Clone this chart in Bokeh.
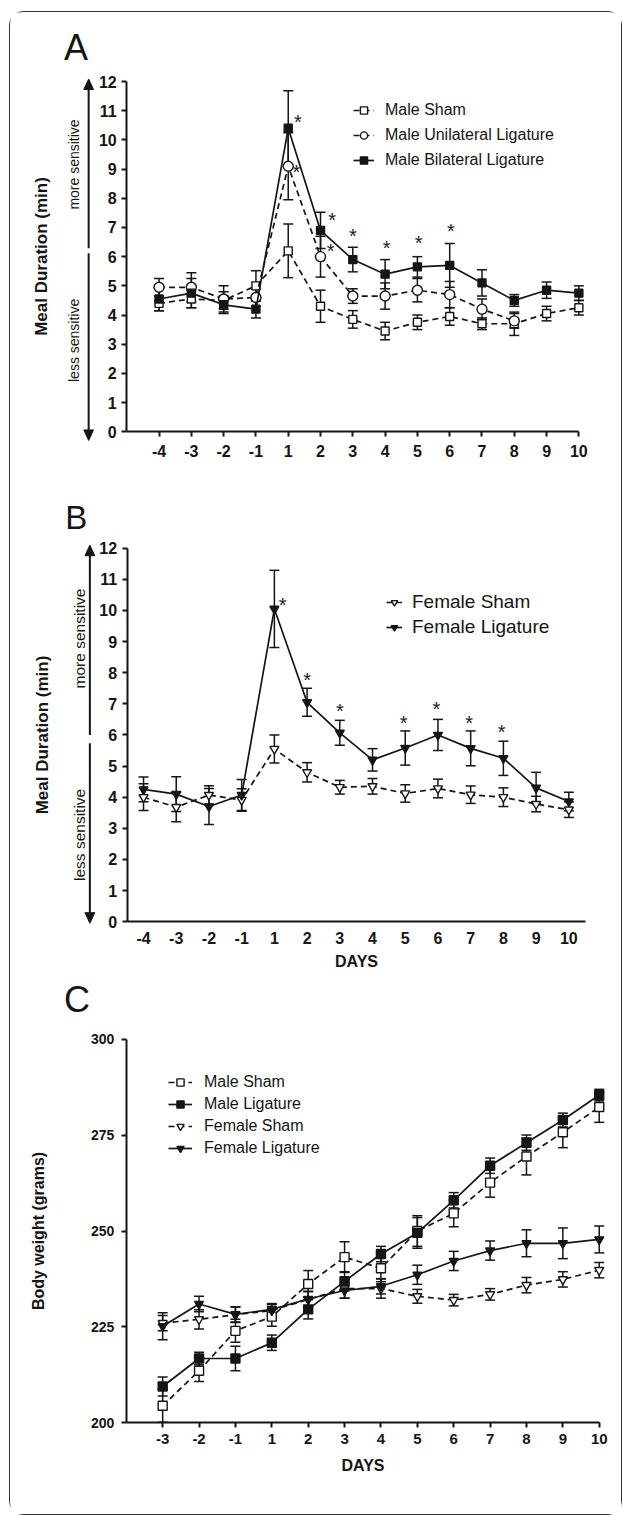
import math
from bokeh.plotting import figure
from bokeh.models import (Range1d, FixedTicker, Whisker, ColumnDataSource, Legend,
                          LegendItem, Label, TeeHead)
from bokeh.layouts import column
from bokeh.embed import file_html
from bokeh.resources import INLINE
from bokeh.core.properties import value

# ---------------- data ----------------
days_ab = [-4, -3, -2, -1, 1, 2, 3, 4, 5, 6, 7, 8, 9, 10]
days_c = [-3, -2, -1, 1, 2, 3, 4, 5, 6, 7, 8, 9, 10]

# Panel A: meal duration, males (min)
male_sham_a = [4.4, 4.55, 4.5, 5.0, 6.2, 4.3, 3.85, 3.45, 3.75, 3.95, 3.7, 3.7, 4.05, 4.25]
male_sham_a_err = [0.25, 0.3, 0.3, 0.52, 0.92, 0.55, 0.3, 0.3, 0.25, 0.3, 0.2, 0.4, 0.25, 0.25]
male_uni_a = [4.95, 4.95, 4.55, 4.6, 9.1, 6.0, 4.65, 4.65, 4.85, 4.7, 4.2, 3.8]
male_uni_a_err = [0.3, 0.5, 0.45, 0.3, 1.15, 0.7, 0.25, 0.45, 0.4, 0.45, 0.35, 0.25]
male_bi_a = [4.55, 4.75, 4.35, 4.2, 10.4, 6.9, 5.9, 5.4, 5.65, 5.7, 5.1, 4.5, 4.85, 4.75]
male_bi_a_err = [0.4, 0.5, 0.3, 0.3, 1.29, 0.62, 0.42, 0.5, 0.35, 0.75, 0.45, 0.2, 0.28, 0.25]
star_a_day = [1, 1, 2, 2, 3, 4, 5, 6]
star_a_val = [10.63, 8.91, 7.26, 6.19, 6.72, 6.29, 6.46, 6.88]
star_a_dx = [0.30, 0.25, 0.36, 0.31, 0.0, 0.05, 0.04, 0.04]

# Panel B: meal duration, females (min)
female_sham_b = [4.0, 3.68, 4.07, 3.91, 5.55, 4.8, 4.32, 4.35, 4.12, 4.28, 4.08, 4.0, 3.78, 3.6]
female_sham_b_err = [0.43, 0.47, 0.3, 0.36, 0.45, 0.31, 0.22, 0.25, 0.28, 0.3, 0.28, 0.3, 0.25, 0.25]
female_lig_b = [4.25, 4.1, 3.7, 4.07, 10.05, 7.05, 6.07, 5.2, 5.58, 6.0, 5.57, 5.25, 4.3, 3.86]
female_lig_b_err = [0.4, 0.56, 0.58, 0.5, 1.24, 0.45, 0.4, 0.36, 0.55, 0.5, 0.56, 0.55, 0.5, 0.3]
star_b_day = [1, 2, 3, 5, 6, 7, 8]
star_b_val = [10.16, 7.77, 6.78, 6.4, 6.83, 6.38, 6.1]
star_b_dx = [0.25, 0.0, 0.0, -0.05, -0.05, -0.05, -0.05]

# Panel C: body weight (grams)
male_sham_c = [204.5, 213.6, 224.0, 227.7, 236.2, 243.2, 240.3, 250.0, 254.6, 262.6, 269.4, 275.7, 282.3]
male_sham_c_err = [4.3, 2.8, 3.0, 2.5, 3.5, 4.0, 3.5, 4.0, 3.5, 3.8, 4.8, 4.0, 4.0]
male_lig_c = [209.5, 216.8, 216.8, 220.9, 229.6, 236.9, 244.0, 249.5, 258.0, 267.0, 273.0, 278.9, 285.4]
male_lig_c_err = [2.5, 1.6, 3.2, 2.0, 2.5, 2.5, 2.0, 4.0, 2.0, 2.0, 2.0, 1.8, 1.5]
female_sham_c = [226.0, 227.0, 228.2, 229.3, 232.2, 235.0, 235.0, 233.0, 232.0, 233.5, 235.9, 237.4, 239.8]
female_sham_c_err = [2.0, 2.5, 2.0, 1.5, 2.0, 2.5, 2.5, 1.8, 1.5, 1.5, 2.0, 2.0, 2.0]
female_lig_c = [225.2, 231.0, 228.3, 229.6, 232.3, 234.5, 235.6, 238.6, 242.2, 244.9, 246.8, 246.8, 247.8]
female_lig_c_err = [3.5, 2.0, 2.0, 1.5, 2.0, 2.0, 2.0, 2.5, 2.5, 2.5, 3.5, 4.0, 3.5]

meal_ticks = list(range(0, 13))
weight_ticks = [200, 225, 250, 275, 300]

# ---------------- style ----------------
FONT = "Liberation Sans"
INK = "#151515"
DASH = "6 4"
W = 611


def make_fig(height, xr, yr):
    p = figure(width=W, height=height, x_range=Range1d(*xr), y_range=Range1d(*yr),
               output_backend="svg", toolbar_location=None,
               min_border_left=0, min_border_right=0,
               min_border_top=0, min_border_bottom=0)
    p.outline_line_color = None
    p.grid.visible = False
    p.background_fill_color = "white"
    p.border_fill_color = "white"
    return p


def style_axis(ax, size, tick_out=5, standoff=5, label_size="17px", label_standoff=5):
    ax.axis_line_width = 2
    ax.axis_line_color = INK
    ax.major_tick_line_width = 2
    ax.major_tick_line_color = INK
    ax.major_tick_out = tick_out
    ax.major_tick_in = 0
    ax.minor_tick_out = 0
    ax.minor_tick_in = 0
    ax.major_label_text_font = FONT
    ax.major_label_text_font_style = "bold"
    ax.major_label_text_font_size = size
    ax.major_label_text_color = INK
    ax.major_label_standoff = standoff
    ax.axis_label_text_font = FONT
    ax.axis_label_text_font_style = "bold"
    ax.axis_label_text_font_size = label_size
    ax.axis_label_text_color = INK
    ax.axis_label_standoff = label_standoff


def series(p, ys, errs, marker, filled, dashed, size):
    xs = list(range(len(ys)))
    src = ColumnDataSource(dict(x=xs, y=ys,
                                lo=[y - e for y, e in zip(ys, errs)],
                                hi=[y + e for y, e in zip(ys, errs)]))
    w = Whisker(base="x", upper="hi", lower="lo", source=src,
                line_width=1.5, line_color=INK,
                upper_head=TeeHead(size=10, line_width=1.5, line_color=INK),
                lower_head=TeeHead(size=10, line_width=1.5, line_color=INK))
    p.add_layout(w)
    ln = p.line("x", "y", source=src, line_width=1.7, line_color=INK,
                line_dash=DASH if dashed else "solid")
    sc = p.scatter("x", "y", source=src, marker=marker, size=size,
                   fill_color=INK if filled else "white",
                   line_color=INK, line_width=1.4)
    return [ln, sc]


def stars(p, days, days_list, vals, dxs, size="20px"):
    xs = [days_list.index(d) + dx for d, dx in zip(days, dxs)]
    p.text(x=xs, y=vals, text=["*"] * len(xs), text_font=value(FONT),
           text_font_size=size, text_align="center", text_baseline="middle",
           text_color="#222")


def side_text(p, text, x_data, y_data, size):
    p.add_layout(Label(x=x_data, y=y_data, x_units="data", y_units="data",
                       text=text, angle=math.pi / 2, text_font=FONT,
                       text_font_size=size, text_align="center",
                       text_baseline="middle", text_color=INK))


def side_arrow(p, x, y_from, y_tip, head_len, half_w):
    direction = 1 if y_tip > y_from else -1
    base = y_tip - direction * head_len
    p.segment(x0=[x], y0=[y_from], x1=[x], y1=[base + direction * head_len * 0.3],
              line_width=2, line_color=INK)
    p.patch(x=[x - half_w, x + half_w, x], y=[base, base, y_tip],
            fill_color=INK, line_color=INK, line_width=1)


def letter(p, text, x_data, y_data, size="36px"):
    p.add_layout(Label(x=x_data, y=y_data, x_units="data", y_units="data",
                       text=text, text_font=FONT, text_font_size=size,
                       text_align="left", text_baseline="alphabetic",
                       text_color=INK))


def legend(p, items, loc, font, gw, gh, spacing, standoff):
    lg = Legend(items=[LegendItem(label=l, renderers=r) for l, r in items],
                location=loc, padding=0, margin=0, spacing=spacing,
                glyph_width=gw, glyph_height=gh, label_height=gh,
                label_standoff=standoff, label_text_font=FONT,
                label_text_font_size=font, label_text_color=INK,
                border_line_color=None, background_fill_alpha=0)
    p.add_layout(lg)


overrides_ab = {i: str(d) for i, d in enumerate(days_ab)}
overrides_c = {i: str(d) for i, d in enumerate(days_c)}

# ---------------- Panel A ----------------
pA = make_fig(457, (-4.60, 14.32), (-1.296, 14.37))
ya, xa = pA.yaxis[0], pA.xaxis[0]
style_axis(ya, "16px", 5, 5, "17px", 45)
style_axis(xa, "16px", 5, 8)
ya.fixed_location, ya.bounds = -1, (0, 12)
xa.fixed_location, xa.bounds = 0, (-1, 13)
ya.ticker = FixedTicker(ticks=meal_ticks)
ya.axis_label = "Meal Duration (min)"
xa.ticker = FixedTicker(ticks=list(range(len(days_ab))))
xa.major_label_overrides = overrides_ab

rA1 = series(pA, male_sham_a, male_sham_a_err, "square", False, True, 8)
rA2 = series(pA, male_uni_a, male_uni_a_err, "circle", False, True, 10)
rA3 = series(pA, male_bi_a, male_bi_a_err, "square", True, False, 8)
stars(pA, star_a_day, days_ab, star_a_val, star_a_dx)
legend(pA, [("Male Sham", rA1), ("Male Unilateral Ligature", rA2),
            ("Male Bilateral Ligature", rA3)], (343, 300), "16px", 21, 18, 7, 11)
side_text(pA, "more sensitive", -2.63, 9.16, "14px")
side_text(pA, "less sensitive", -2.63, 3.13, "14px")
side_arrow(pA, -2.18, 6.29, 12.09, 0.36, 0.15)
side_arrow(pA, -2.18, 6.12, -0.3, 0.36, 0.15)
letter(pA, "A", -2.94, 13.17)

# ---------------- Panel B ----------------
pB = make_fig(505, (-4.066, 14.61), (-1.697, 14.53))
yb, xb = pB.yaxis[0], pB.xaxis[0]
style_axis(yb, "16px", 5, 5, "17px", 45)
style_axis(xb, "16px", 0, 10, "16px", 6)
yb.fixed_location, yb.bounds = -0.5, (0, 12)
xb.fixed_location, xb.bounds = 0, (-0.5, 13.5)
yb.ticker = FixedTicker(ticks=meal_ticks)
yb.axis_label = "Meal Duration (min)"
xb.ticker = FixedTicker(ticks=list(range(len(days_ab))))
xb.major_label_overrides = overrides_ab
xb.axis_label = "DAYS"

rB1 = series(pB, female_sham_b, female_sham_b_err, "inverted_triangle", False, True, 9)
rB2 = series(pB, female_lig_b, female_lig_b_err, "inverted_triangle", True, False, 9)
stars(pB, star_b_day, days_ab, star_b_val, star_b_dx)
legend(pB, [("Female Sham", rB1), ("Female Ligature", rB2)], (376, 336), "19px", 16, 20, 3, 10)
side_text(pB, "more sensitive", -1.96, 9.1, "15.5px")
side_text(pB, "less sensitive", -1.96, 2.79, "15.5px")
side_arrow(pB, -1.64, 6.0, 12.1, 0.34, 0.15)
side_arrow(pB, -1.64, 5.73, -0.05, 0.34, 0.15)
letter(pB, "B", -2.39, 12.98, "33px")

# ---------------- Panel C ----------------
pC = make_fig(540, (-4.183, 12.612), (176.17, 316.8))
yc, xc = pC.yaxis[0], pC.xaxis[0]
style_axis(yc, "14px", 5, 7, "16px", 41)
style_axis(xc, "15px", 5, 6, "16px", 10)
yc.fixed_location, yc.bounds = -1, (200, 300)
xc.fixed_location, xc.bounds = 200, (-1, 12)
yc.ticker = FixedTicker(ticks=weight_ticks)
yc.axis_label = "Body weight (grams)"
xc.ticker = FixedTicker(ticks=list(range(len(days_c))))
xc.major_label_overrides = overrides_c
xc.axis_label = "DAYS"

rC1 = series(pC, male_sham_c, male_sham_c_err, "square", False, True, 9)
rC2 = series(pC, male_lig_c, male_lig_c_err, "square", True, False, 9)
rC3 = series(pC, female_sham_c, female_sham_c_err, "inverted_triangle", False, True, 9)
rC4 = series(pC, female_lig_c, female_lig_c_err, "inverted_triangle", True, False, 9)
legend(pC, [("Male Sham", rC1), ("Male Ligature", rC2), ("Female Sham", rC3),
            ("Female Ligature", rC4)], (158, 357), "16px", 24, 18, 4, 12)
letter(pC, "C", -2.71, 310.4)

layout = column(pA, pB, pC, spacing=0, margin=(11, 0, 0, 9),
                styles={"border": "1.5px solid #333", "border-radius": "14px"})

open("out.html", "w").write(file_html(layout, INLINE))
